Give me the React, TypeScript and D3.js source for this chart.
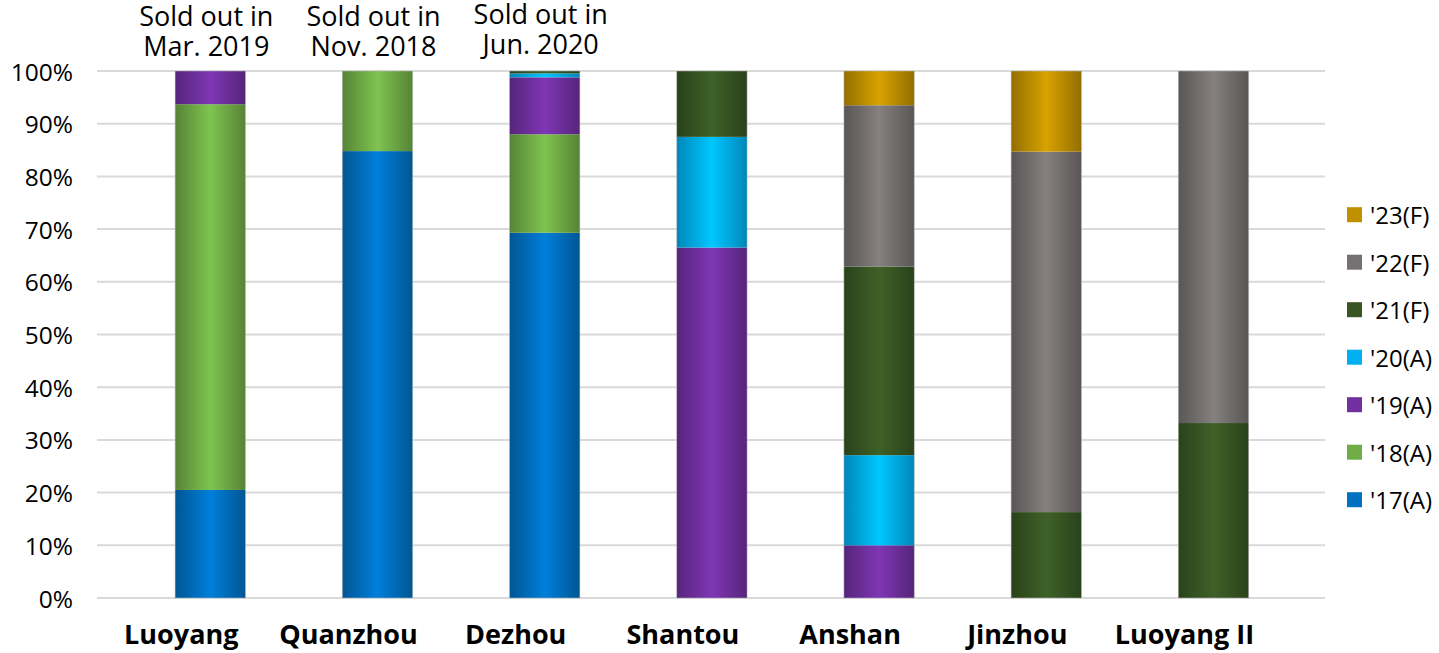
import React from "react";
import * as d3 from "d3";

const categories = ["Luoyang", "Quanzhou", "Dezhou", "Shantou", "Anshan", "Jinzhou", "Luoyang II"];
const seriesNames = ["'17(A)", "'18(A)", "'19(A)", "'20(A)", "'21(F)", "'22(F)", "'23(F)"];
const seriesColors = ["#0070C0", "#70AD47", "#7030A0", "#00B0F0", "#375623", "#767171", "#BF9000"];
const s17 = [20.5, 84.8, 69.3, 0, 0, 0, 0];
const s18 = [73.2, 15.2, 18.7, 0, 0, 0, 0];
const s19 = [6.3, 0, 10.8, 66.5, 10.0, 0, 0];
const s20 = [0, 0, 0.75, 21.0, 17.1, 0, 0];
const s21 = [0, 0, 0.45, 12.5, 35.8, 16.3, 33.2];
const s22 = [0, 0, 0, 0, 30.6, 68.4, 66.8];
const s23 = [0, 0, 0, 0, 6.5, 15.3, 0];
const seriesValues = [s17, s18, s19, s20, s21, s22, s23];
const yTicks = [0, 10, 20, 30, 40, 50, 60, 70, 80, 90, 100];
const annotations = [
  { cat: "Luoyang", lines: ["Sold out in", "Mar. 2019"] },
  { cat: "Quanzhou", lines: ["Sold out in", "Nov. 2018"] },
  { cat: "Dezhou", lines: ["Sold out in", "Jun. 2020"] },
];

const W = 1439;
const H = 653;
const FONT = "'Open Sans', 'Noto Sans', sans-serif";

export default function App() {
  const x = d3
    .scaleBand<string>()
    .domain(categories)
    .range([126.7, 1297.1])
    .paddingInner(0.579)
    .paddingOuter(0.2895);
  const y = d3.scaleLinear().domain([0, 100]).range([598, 71]);

  const table = categories.map((c, i) => {
    const row: any = { cat: c };
    seriesNames.forEach((s, j) => (row[s] = seriesValues[j][i]));
    return row;
  });
  const stacked = d3.stack<any>().keys(seriesNames)(table);

  const gradId = (j: number) => `grad${j}`;

  return (
    <svg width={W} height={H} style={{ position: "absolute", left: 0, top: 0, background: "#fff" }}>
      <defs>
        {seriesColors.map((c, j) => {
          const dark = d3.rgb(c).darker(0.75).formatHex();
          const light = d3.rgb(c).brighter(0.35).formatHex();
          return (
            <linearGradient key={j} id={gradId(j)} x1="0" x2="1" y1="0" y2="0">
              <stop offset="0%" stopColor={dark} />
              <stop offset="50%" stopColor={light} />
              <stop offset="100%" stopColor={dark} />
            </linearGradient>
          );
        })}
      </defs>
      <rect x={0} y={0} width={W} height={H} fill="#fff" />
      {yTicks.map((t) => (
        <g key={t}>
          <line x1={97} x2={1325} y1={y(t)} y2={y(t)} stroke="#D9D9D9" strokeWidth={2} />
          <text
            x={73}
            y={y(t)}
            textAnchor="end"
            dominantBaseline="central"
            fontFamily={FONT}
            fontSize={24.5}
            fill="#000"
          >
            {t}%
          </text>
        </g>
      ))}
      {stacked.map((layer, j) => (
        <g key={j}>
          {layer.map((d, i) => {
            const h = y(d[0]) - y(d[1]);
            if (h <= 0) return null;
            return (
              <rect
                key={i}
                x={x(categories[i])!}
                width={x.bandwidth()}
                y={y(d[1])}
                height={h}
                fill={`url(#${gradId(j)})`}
              />
            );
          })}
        </g>
      ))}
      {categories.map((c) => (
        <rect
          key={c}
          x={x(c)!}
          width={x.bandwidth()}
          y={y(100)}
          height={y(0) - y(100)}
          fill="none"
          stroke="#BFBFBF"
          strokeWidth={0.8}
          strokeOpacity={0.6}
        />
      ))}
      {categories.map((c) => (
        <text
          key={c}
          x={x(c)! + x.bandwidth() / 2 - 29}
          y={644}
          textAnchor="middle"
          fontFamily={FONT}
          fontWeight="bold"
          fontSize={27}
          fill="#000"
        >
          {c}
        </text>
      ))}
      {annotations.map((a, k) => (
        <text
          key={a.cat}
          x={x(a.cat)! + x.bandwidth() / 2 - 4}
          textAnchor="middle"
          fontFamily={FONT}
          fontSize={27}
          fill="#000"
        >
          {a.lines.map((l, li) => (
            <tspan key={li} x={x(a.cat)! + x.bandwidth() / 2 - 4} y={(k === 2 ? 24 : 26) + li * 30}>
              {l}
            </tspan>
          ))}
        </text>
      ))}
      {seriesNames
        .slice()
        .reverse()
        .map((s, k) => {
          const j = seriesNames.length - 1 - k;
          const cy = 214.7 + k * 47.5;
          return (
            <g key={s}>
              <rect x={1347} y={cy - 7.5} width={15} height={15} fill={seriesColors[j]} />
              <text x={1370} y={cy} dominantBaseline="central" fontFamily={FONT} fontSize={24} fill="#000">
                {s}
              </text>
            </g>
          );
        })}
    </svg>
  );
}
